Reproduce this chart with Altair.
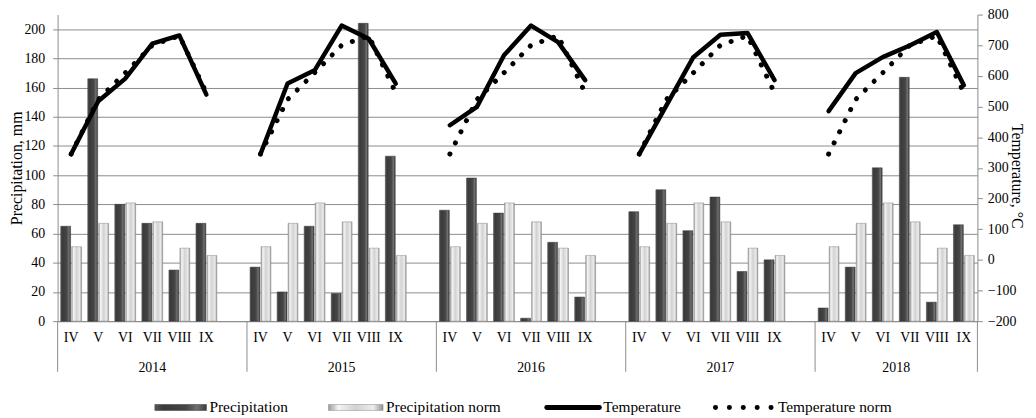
import altair as alt
import pandas as pd

# ---------------- data ----------------
years = [2014, 2015, 2016, 2017, 2018]
months = ["IV", "V", "VI", "VII", "VIII", "IX"]

precip_2014 = [65, 166, 80, 67, 35, 67]
precip_2015 = [37, 20, 65, 19, 204, 113]
precip_2016 = [76, 98, 74, 2, 54, 16.5]
precip_2017 = [75, 90, 62, 85, 34, 42]
precip_2018 = [9, 37, 105, 167, 13, 66]
precip_norm = [51, 67, 81, 68, 50, 45]

temp_2014 = [345, 517, 591, 705, 732, 539]
temp_2015 = [345, 575, 618, 764, 721, 575]
temp_2016 = [439, 499, 667, 764, 710, 586]
temp_2017 = [345, 503, 661, 734, 740, 586]
temp_2018 = [485, 609, 661, 699, 743, 569]
temp_norm = [345, 523, 610, 700, 731, 545]

precip_by_year = [precip_2014, precip_2015, precip_2016, precip_2017, precip_2018]
temp_by_year = [temp_2014, temp_2015, temp_2016, temp_2017, temp_2018]

left_ticks = list(range(0, 201, 20))
right_ticks = list(range(-200, 801, 100))
legend_names = ["Precipitation", "Precipitation norm", "Temperature", "Temperature norm"]

# ---------------- tables ----------------
slots = []
for i, y in enumerate(years):
    for m in months:
        slots.append(f"{y}|{m}")
    if i < len(years) - 1:
        slots.append(f"{y}|")

bar_rows, line_rows = [], []
for y, pr, tp in zip(years, precip_by_year, temp_by_year):
    for m, p, pn, t, tn in zip(months, pr, precip_norm, tp, temp_norm):
        s = f"{y}|{m}"
        bar_rows.append({"slot": s, "series": "Precipitation", "value": p})
        bar_rows.append({"slot": s, "series": "Precipitation norm", "value": pn})
        line_rows.append({"slot": s, "year": y, "series": "Temperature", "value": t})
        line_rows.append({"slot": s, "year": y, "series": "Temperature norm", "value": tn})
bars_df = pd.DataFrame(bar_rows)
lines_df = pd.DataFrame(line_rows)

group = len(months) + 1
sep_rows, year_rows = [], []
for i, y in enumerate(years):
    start = i * group
    size = group if i < len(years) - 1 else len(months)
    sep_rows.append({"pos": start})
    year_rows.append({"pos": start + size / 2, "label": str(y)})
sep_rows.append({"pos": len(slots)})
sep_df = pd.DataFrame(sep_rows)
year_df = pd.DataFrame(year_rows)

# ---------------- style ----------------
FONT = "Liberation Serif"
GRID = "#8c8c8c"
W, H = 927, 309

dark_grad = alt.Gradient(
    gradient="linear", x1=0, x2=1, y1=0, y2=0,
    stops=[alt.GradientStop(offset=0, color="#5a5a5a"),
           alt.GradientStop(offset=0.15, color="#3a3a3a"),
           alt.GradientStop(offset=0.6, color="#454545"),
           alt.GradientStop(offset=0.82, color="#707070"),
           alt.GradientStop(offset=1, color="#3c3c3c")])
light_grad = alt.Gradient(
    gradient="linear", x1=0, x2=1, y1=0, y2=0,
    stops=[alt.GradientStop(offset=0, color="#9a9a9a"),
           alt.GradientStop(offset=0.18, color="#f4f4f4"),
           alt.GradientStop(offset=0.5, color="#d2d2d2"),
           alt.GradientStop(offset=0.82, color="#ececec"),
           alt.GradientStop(offset=1, color="#909090")])

x_enc = alt.X("slot:N", sort=slots,
              scale=alt.Scale(domain=slots, paddingInner=0.23, paddingOuter=0.115),
              axis=alt.Axis(title=None, labelExpr="split(datum.value, '|')[1]",
                            ticks=False, labelAngle=0, labelFontSize=14,
                            labelPadding=10, grid=False, domainColor=GRID,
                            labelOverlap=False))
xoff = alt.XOffset("series:N", scale=alt.Scale(domain=legend_names[:2], paddingInner=0.1))
y_left = alt.Y("value:Q", scale=alt.Scale(domain=[0, 210], nice=False, zero=True),
               axis=alt.Axis(values=left_ticks, grid=True, gridColor=GRID, tickSize=5,
                             labelFontSize=14, labelPadding=8, title="Precipitation, mm",
                             titleFontSize=16, titleX=-41, titleY=H / 2, titleAngle=-90,
                             titleAlign="center", titleBaseline="middle"))
y_right = alt.Y("value:Q", scale=alt.Scale(domain=[-200, 800], nice=False, zero=False),
                axis=alt.Axis(orient="right", values=right_ticks, grid=False, tickSize=5,
                              labelFontSize=14, labelPadding=5, title="Temperature, °C",
                              titleFontSize=16, titleX=39, titleY=H / 2 + 8, titleAngle=90,
                              titleAlign="center", titleBaseline="middle"))

bar_base = alt.Chart(bars_df)
bars_p = bar_base.transform_filter(alt.datum.series == legend_names[0]).mark_bar(
    fill=dark_grad, stroke="#333333", strokeWidth=0.5).encode(x=x_enc, xOffset=xoff, y=y_left)
bars_n = bar_base.transform_filter(alt.datum.series == legend_names[1]).mark_bar(
    fill=light_grad, stroke="#8a8a8a", strokeWidth=0.5).encode(x=x_enc, xOffset=xoff, y=y_left)
bars = alt.layer(bars_p, bars_n)

line_base = alt.Chart(lines_df)
temp_line = line_base.transform_filter(alt.datum.series == legend_names[2]).mark_line(
    color="black", strokeWidth=4.5, strokeCap="round", strokeJoin="round").encode(
    x=x_enc, y=y_right, detail="year:N")
norm_line = line_base.transform_filter(alt.datum.series == legend_names[3]).mark_line(
    color="black", strokeWidth=5, strokeCap="round", strokeDash=[0.1, 12.4]).encode(
    x=x_enc, y=y_right, detail="year:N")
temps = alt.layer(temp_line, norm_line)

main = alt.layer(bars, temps).resolve_scale(y="independent")

# ---------------- year groups (multi-level axis) ----------------
x_pos = alt.X("pos:Q", scale=alt.Scale(domain=[0, len(slots)], nice=False, zero=False), axis=None)
seps = alt.Chart(sep_df).mark_rule(color=GRID, strokeWidth=1).encode(
    x=x_pos, y=alt.value(H), y2=alt.value(H + 51))
year_text = alt.Chart(year_df).mark_text(font=FONT, fontSize=14, color="black",
                                         baseline="middle").encode(
    x=x_pos, y=alt.value(H + 47), text="label:N")

# ---------------- legend ----------------
one = alt.Data(values=[{"k": 1}])
LY = 396
leg_p = alt.Chart(one).mark_rect(fill=dark_grad, stroke="#333333", strokeWidth=0.5).encode(
    x=alt.value(98), x2=alt.value(150), y=alt.value(LY - 3), y2=alt.value(LY + 3))
leg_n = alt.Chart(one).mark_rect(fill=light_grad, stroke="#8a8a8a", strokeWidth=0.5).encode(
    x=alt.value(273), x2=alt.value(328), y=alt.value(LY - 3), y2=alt.value(LY + 3))
leg_t = alt.Chart(one).mark_rule(color="black", strokeWidth=5, strokeCap="round").encode(
    x=alt.value(493), x2=alt.value(546), y=alt.value(LY))
leg_tn = alt.Chart(one).mark_rule(color="black", strokeWidth=5, strokeCap="round",
                                  strokeDash=[0.1, 13.9]).encode(
    x=alt.value(663), x2=alt.value(720), y=alt.value(LY))
leg_texts = [alt.Chart(one).mark_text(text=name, font=FONT, fontSize=15.5, color="black",
                                      align="left", baseline="middle").encode(
    x=alt.value(xx), y=alt.value(LY))
    for name, xx in zip(legend_names, [153, 331, 550, 726])]

decor = alt.layer(seps, year_text, leg_p, leg_n, leg_t, leg_tn, *leg_texts)

chart = alt.layer(main, decor).resolve_scale(x="independent").properties(
    width=W, height=H,
    autosize=alt.AutoSizeParams(type="none"),
    padding={"left": 50, "top": 5, "right": 1028 - 50 - W, "bottom": 410 - 5 - H},
    background="white",
).configure_view(stroke=None).configure_axis(
    labelFont=FONT, titleFont=FONT, labelColor="black", titleColor="black",
    domainColor=GRID, tickColor=GRID, titleFontWeight="normal")

chart.save("out.html", embed_options={"renderer": "svg", "actions": False})
